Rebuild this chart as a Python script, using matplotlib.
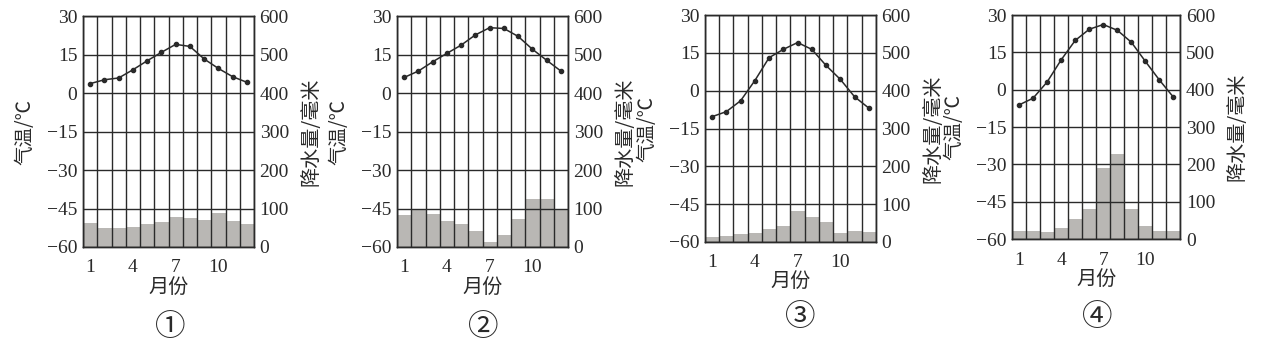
import numpy as np
import matplotlib
matplotlib.use("Agg")
import matplotlib.pyplot as plt

plt.rcParams['font.family'] = ['Liberation Serif', 'Noto Sans CJK SC']

# Data

months = np.arange(1, 13)

temp_1 = [3.7, 5.2, 5.9, 9.1, 12.6, 15.9, 19.0, 18.2, 13.3, 9.6, 6.4, 4.2]
prec_1 = [62, 49, 49, 52, 60, 64, 77, 75, 69, 88, 68, 60]

temp_2 = [6.1, 8.6, 12.2, 15.5, 18.7, 22.7, 25.5, 25.2, 22.1, 17.1, 12.8, 8.6]
prec_2 = [82, 98, 85, 68, 59, 41, 12, 32, 72, 126, 126, 100]

temp_3 = [-10.3, -8.3, -4.0, 4.0, 13.1, 16.4, 19.1, 16.4, 10.0, 4.5, -2.4, -6.9]
prec_3 = [13, 16, 22, 25, 35, 42, 81, 66, 53, 25, 28, 27]

temp_4 = [-6.1, -3.4, 3.1, 12.0, 19.8, 24.3, 26.2, 23.9, 19.1, 11.4, 3.9, -3.0]
prec_4 = [22, 22, 19, 31, 53, 81, 191, 228, 81, 35, 22, 22]

panel_names = ["①", "②", "③", "④"]
temps = [temp_1, temp_2, temp_3, temp_4]
precs = [prec_1, prec_2, prec_3, prec_4]

# axes boxes in figure fractions [left, bottom, width, height]
boxes = [
    [0.0658, 0.312, 0.1355, 0.643],
    [0.3146, 0.312, 0.1355, 0.643],
    [0.5586, 0.326, 0.1355, 0.632],
    [0.8019, 0.334, 0.1335, 0.624],
]
label_pos = [(170, 327), (483, 327), (800, 317), (1097, 317)]

ink = "#2a2a2a"
bar_color = "#b9b7b4"
cjk = ['Noto Sans CJK SC', 'DejaVu Sans']

fig = plt.figure(figsize=(12.62, 3.59), dpi=100)

for i in range(4):
    ax = fig.add_axes(boxes[i])
    ax2 = ax.twinx()

    # precipitation bars on the right axis, drawn under the grid
    ax2.bar(months, precs[i], width=1.0, color=bar_color, edgecolor="none")
    ax2.set_ylim(0, 600)
    ax2.set_yticks(range(0, 601, 100))
    ax2.tick_params(axis="y", length=0, pad=4, labelsize=14, colors=ink)
    ax2.set_ylabel("降水量/毫米", family=cjk, fontsize=14.5, color=ink, labelpad=8)

    ax.set_zorder(ax2.get_zorder() + 1)
    ax.patch.set_visible(False)

    ax.plot(months, temps[i], color=ink, lw=1.1, marker="o", ms=3)
    ax.set_xlim(0.5, 12.5)
    ax.set_ylim(-60, 30)
    ax.set_yticks(range(-60, 31, 15))
    ax.set_yticklabels([str(v).replace("-", "\u2212") for v in range(-60, 31, 15)])
    ax.set_xticks([1, 4, 7, 10])
    ax.set_xticks(np.arange(0.5, 12.6, 1.0), minor=True)
    ax.tick_params(axis="both", which="both", length=0, labelsize=14, colors=ink)
    ax.tick_params(axis="y", pad=4)
    ax.tick_params(axis="x", pad=9)
    ax.grid(True, which="minor", axis="x", color=ink, lw=1.0)
    ax.grid(True, which="major", axis="y", color=ink, lw=1.0)
    ax.set_ylabel("气温/℃", family=cjk, fontsize=14, color=ink, labelpad=8)
    ax.set_xlabel("月份", family=cjk, fontsize=14.5, color=ink, labelpad=0)

    for a in (ax, ax2):
        for s in a.spines.values():
            s.set_color(ink)
            s.set_linewidth(1.0)

    x, y = label_pos[i]
    fig.text(x / 1262, 1 - y / 359, panel_names[i], family=cjk,
             fontsize=22, color=ink, ha="center", va="center")

fig.savefig("out.png", dpi=100, facecolor="white")
